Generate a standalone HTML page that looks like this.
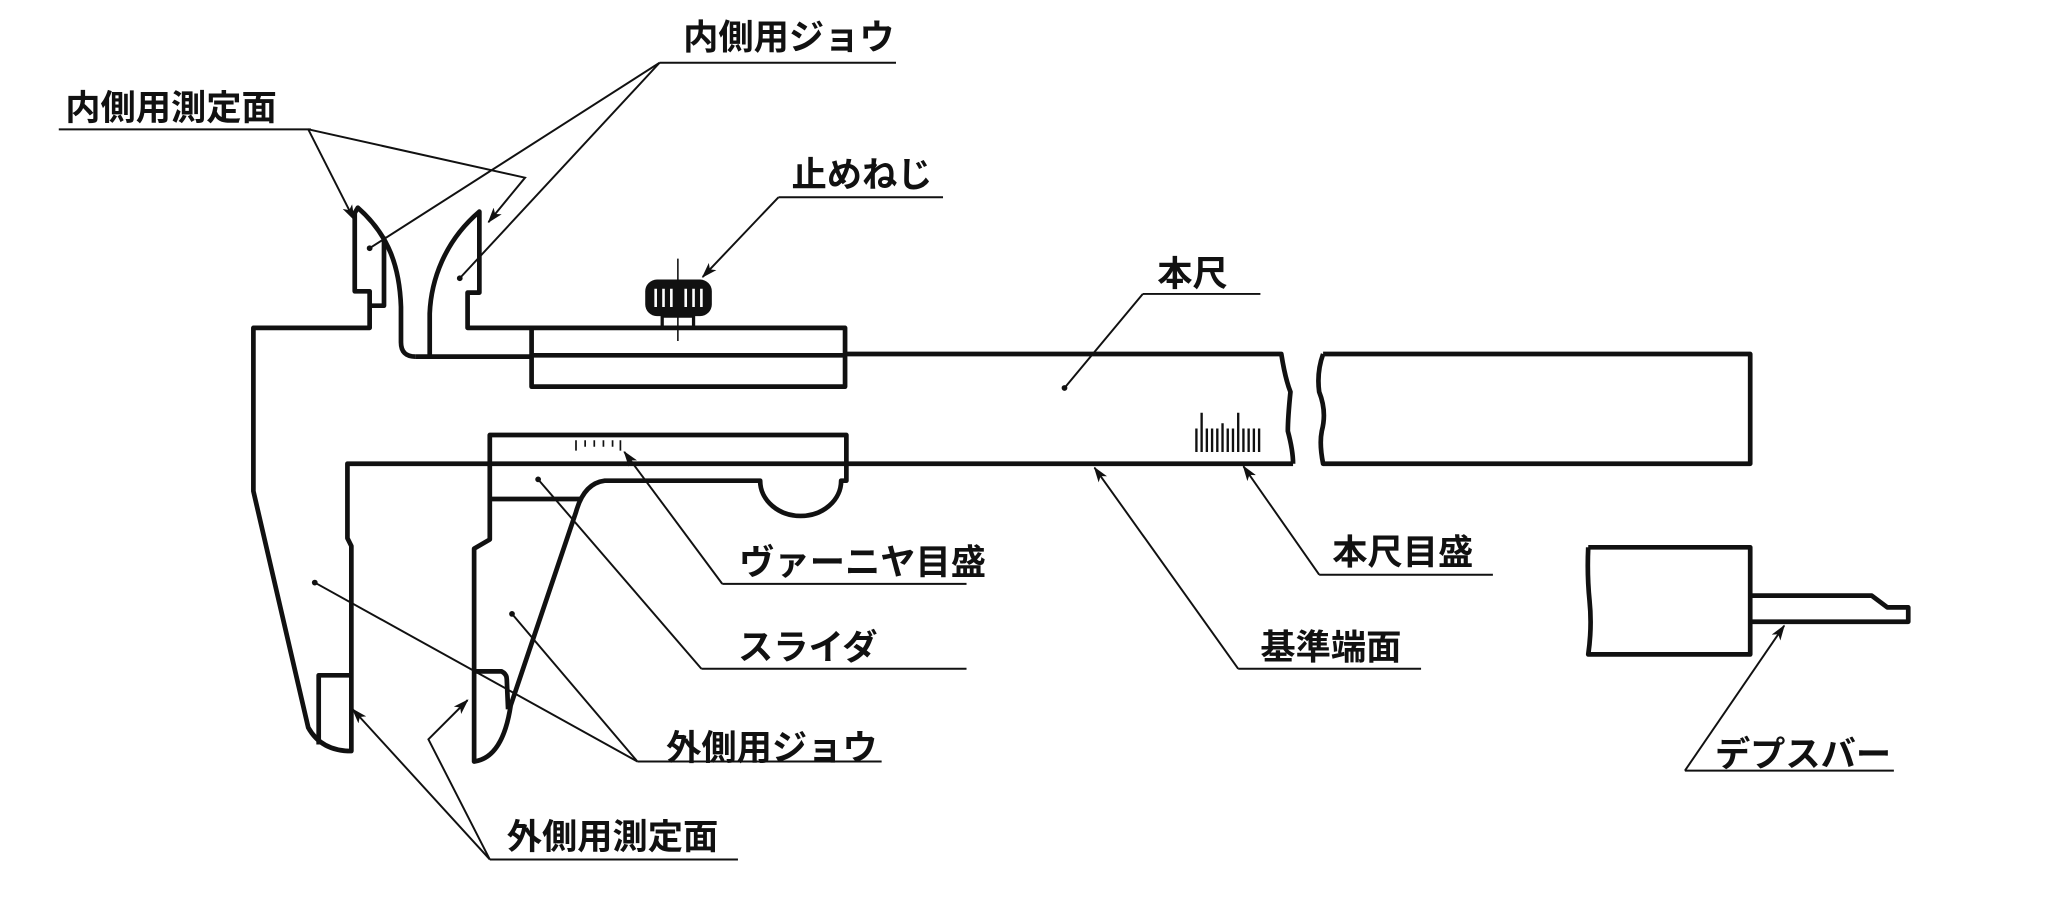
<!DOCTYPE html>
<html><head><meta charset="utf-8"><style>
html,body{margin:0;padding:0;background:#fff;}
svg{display:block;}
text{font-family:"Liberation Sans","Noto Sans CJK JP",sans-serif;font-size:27px;font-weight:bold;fill:#111;}
</style></head><body>
<svg width="2048" height="900" viewBox="0 0 1568 689" xmlns="http://www.w3.org/2000/svg">
<defs>
<marker id="ar" markerWidth="12" markerHeight="8" refX="11" refY="4" orient="auto" markerUnits="userSpaceOnUse">
<path d="M0,0 L12,4 L0,8 L3,4 Z" fill="#111"/>
</marker>
</defs>
<rect width="1568" height="689" fill="#fff"/>
<g fill="none" stroke="#111" stroke-width="3.6" stroke-linejoin="round">
<path d="M318,273 Q307,273 307,262 L307,235 C306,205 298,180 274,159 L271.6,163 L271.6,223 L283,223 L283,251 L194,251 L194,376 L236,557 Q246,575 269,575 L269,418 L266,412 L266,355 L990,355"/>
<path d="M283,234 L294,234 L294,181"/>
<path d="M269,517 L244,517 L244,570"/>
<path d="M329,273 L329,240 C330,215 340,185 367,162 L367,224 L358,224 L358,251 L407,251"/>
<path d="M318,273 L407,273"/>
<rect x="407" y="251" width="240" height="45"/>
<path d="M407,272 L647,272"/>
<path d="M647,271 L981,271 Q984,290 988,300 Q986,320 986,330 Q990,345 990,355"/>
<path d="M1013,271 L1340,271 L1340,355 L1013,355 Q1010,340 1012,330 Q1016,315 1010,300 Q1008,285 1013,271"/>
<path d="M375,355 L375,333 L648,333 L648,368 L644,368 A31,27 0 0 1 582,368 L463,368 Q447,370 441,392 L391,540 Q385,580 363,583 L363,420 L375,413 L375,355"/>
<path d="M375,382 L444,382"/>
<path d="M363,514 L384,514 Q388,516 388,520 L389,543"/>
<path d="M1216,419 L1340,419 L1340,501 L1216,501 Q1219,480 1217,460 Q1215,440 1216,419"/>
<path d="M1340,456 L1433,456 L1445,465 L1461,465 L1461,476 L1340,476"/>
<rect x="507" y="242" width="24" height="9" stroke-width="2.5"/>
</g>
<rect x="494" y="214" width="51" height="28" rx="9" fill="#111"/>
<g stroke="#fff" stroke-width="2">
<path d="M502,221 V235 M508,221 V235 M514,221 V235 M525,221 V235 M531,221 V235 M537,221 V235"/>
</g>
<g stroke="#111" stroke-width="2.2">
<path d="M519,198 V214 M519,242 V261" stroke-width="1.2"/>
<path d="M916,328 V346 M920,316 V346 M924,328 V346 M928,328 V346 M932,328 V346 M936,324 V346 M940,328 V346 M944,328 V346 M948,316 V346 M952,328 V346 M956,328 V346 M960,328 V346 M964,328 V346" stroke-width="1.8"/>
<path d="M441,337 V345 M448,337 V342 M455,337 V342 M462,337 V342 M469,337 V342 M475,337 V345" stroke-width="1.3"/>
</g>
<g fill="none" stroke="#111" stroke-width="1.5">
<path d="M45,99 H238"/>
<path d="M236,99 L271,168" marker-end="url(#ar)"/>
<path d="M236,99 L402,136 L374,170" marker-end="url(#ar)"/>
<path d="M505,48 H686"/>
<path d="M505,48 L283,190"/><path d="M505,48 L352,213"/>
<path d="M596,151 H722"/>
<path d="M596,151 L538,212" marker-end="url(#ar)"/>
<path d="M875,225 H965"/><path d="M875,225 L815,297"/>
<path d="M553,447 H740"/><path d="M553,447 L478,346" marker-end="url(#ar)"/>
<path d="M1010,440 H1143"/><path d="M1010,440 L952,357" marker-end="url(#ar)"/>
<path d="M537,512 H740"/><path d="M537,512 L412,367"/>
<path d="M948,512 H1088"/><path d="M948,512 L838,358" marker-end="url(#ar)"/>
<path d="M488,583 H675"/><path d="M488,583 L241,446"/><path d="M488,583 L392,470"/>
<path d="M1290,590 H1450"/><path d="M1290,590 L1366,479" marker-end="url(#ar)"/>
<path d="M375,658 H565"/><path d="M375,658 L270,543" marker-end="url(#ar)"/>
<path d="M375,658 L328,566 L358,536" marker-end="url(#ar)"/>
</g>
<g fill="#111">
<circle cx="283" cy="190" r="2.2"/><circle cx="352" cy="213" r="2.2"/>
<circle cx="815" cy="297" r="2.2"/><circle cx="412" cy="367" r="2.2"/>
<circle cx="241" cy="446" r="2.2"/><circle cx="392" cy="470" r="2.2"/>
</g>
<text x="523" y="38">内側用ジョウ</text>
<text x="50" y="92">内側用測定面</text>
<text x="606" y="143">止めねじ</text>
<text x="886" y="219">本尺</text>
<text x="566" y="440">ヴァーニヤ目盛</text>
<text x="1020" y="432">本尺目盛</text>
<text x="565" y="505">スライダ</text>
<text x="965" y="505">基準端面</text>
<text x="510" y="582">外側用ジョウ</text>
<text x="1313" y="587">デプスバー</text>
<text x="388" y="650">外側用測定面</text>
</svg>
</body></html>
